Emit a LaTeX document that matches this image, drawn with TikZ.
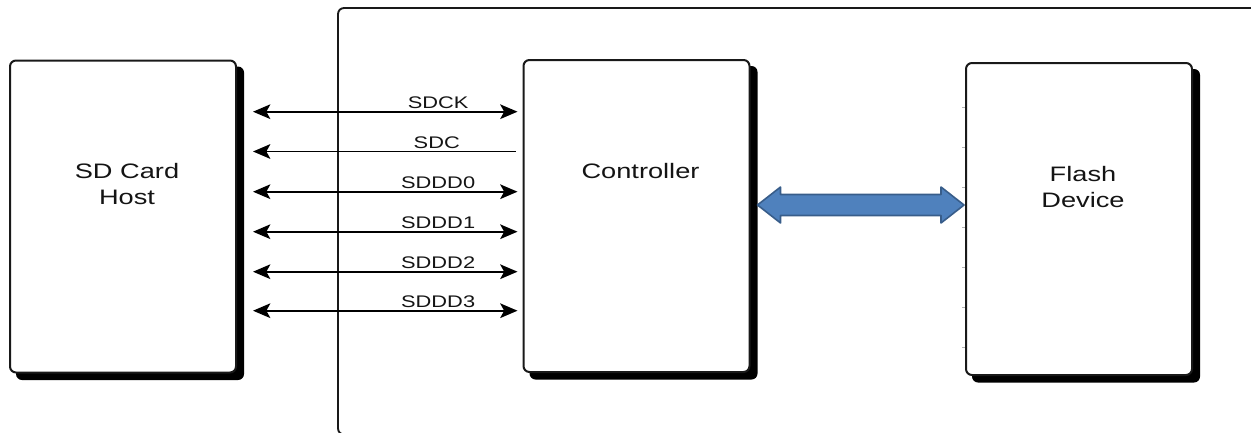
\documentclass[tikz,border=0pt]{standalone}
\usepackage{fontspec}
\setmainfont{Liberation Sans}
\usepackage{graphicx}
\usepackage{tikz}
\usetikzlibrary{arrows.meta,calc,backgrounds}

\definecolor{busblue}{RGB}{79,129,189}
\definecolor{busedge}{RGB}{56,93,138}
\definecolor{txtgray}{RGB}{20,20,20}

\newcommand{\wide}[1]{\scalebox{1.3}[1]{#1}}

\tikzset{
  blk/.style={draw=black!90, line width=1.5pt, rounded corners=4.5pt, fill=white,
    minimum width=226*0.75pt, minimum height=312*0.75pt, inner sep=0pt},
  blkshadow/.style={fill=black, rounded corners=4.5pt},
  frame/.style={draw=black!90, line width=1.4pt, rounded corners=4.5pt},
  bigtxt/.style={font=\fontsize{15.7}{19.5}\selectfont, text=txtgray, inner sep=0pt, align=center, anchor=north},
  sigtxt/.style={font=\fontsize{12.6}{15}\selectfont, text=txtgray, inner sep=1.5pt, above},
  sigtip/.tip={Stealth[length=13pt,width=11pt,inset=3pt]},
  sig/.style={line width=1.4pt, sigtip-sigtip},
  sigin/.style={line width=1.4pt, sigtip-},
  bus/.style={fill=busblue, draw=busedge, line width=1.2pt, line join=round},
}

\begin{document}
\begin{tikzpicture}[x=0.75pt,y=0.75pt,yscale=-1,xscale=1]
\useasboundingbox (0,0) rectangle (1251,432);

% outer frame, runs off the right and bottom
\begin{scope}
\clip (0,0) rectangle (1251,432);
\draw[frame] (338,8) rectangle (1275,434.5);
\end{scope}

% blocks
\node[blk] (host) at (123,216.5) {};
\node[blk] (ctrl) at (636.5,216) {};
\node[blk] (flash) at (1079,219) {};

\begin{scope}[on background layer]
\foreach \n in {host,ctrl,flash}
  \fill[blkshadow] ($(\n.north west)+(7,7)$) rectangle ($(\n.south east)+(7,6.5)$);
\end{scope}

% block texts
\node[bigtxt] (hostlbl) at ($(host.north)+(4,104)$) {\wide{SD Card}\\\wide{Host}};
\node[bigtxt] (ctrllbl) at ($(ctrl.north)+(4,104)$) {\wide{Controller}};
\node[bigtxt] (flashlbl) at ($(flash.north)+(4,104)$) {\wide{Flash}\\\wide{Device}};

% SD bus signals
\foreach \y/\lab in {111.7/SDCK,191.7/SDDD0,231.7/SDDD1,271.7/SDDD2,310.7/SDDD3}
  \draw[sig] ($(host.east|-0,\y)+(16,0)$) -- ($(ctrl.west|-0,\y)+(-5,0)$)
    node[sigtxt, pos=0.7] {\wide{\lab}};
\draw[sigin] ($(host.east|-0,151.5)+(16,0)$) -- ($(ctrl.west|-0,151.5)+(-7,0)$)
    node[sigtxt, pos=0.7] {\wide{SDC}};

% small marks on the flash edge
\foreach \y in {107,147,187,227,267,307,347}
  \draw[black!30, line width=0.5pt] ($(flash.west|-0,\y)+(-3,0)$) -- (flash.west|-0,\y);

% wide double arrow controller <-> flash
\coordinate (busL) at ($(ctrl.east)+(7,-11)$);
\coordinate (busR) at ($(flash.west)+(-1,-14)$);
\draw[bus] (busL) -- ++(23,-18) -- ++(0,7.5) -- ($(busR)+(-23,-10.5)$) -- ++(0,-7.5)
  -- (busR) -- ++(-23,18) -- ++(0,-7.5) -- ($(busL)+(23,10.5)$) -- ++(0,7.5) -- cycle;

\end{tikzpicture}
\end{document}
